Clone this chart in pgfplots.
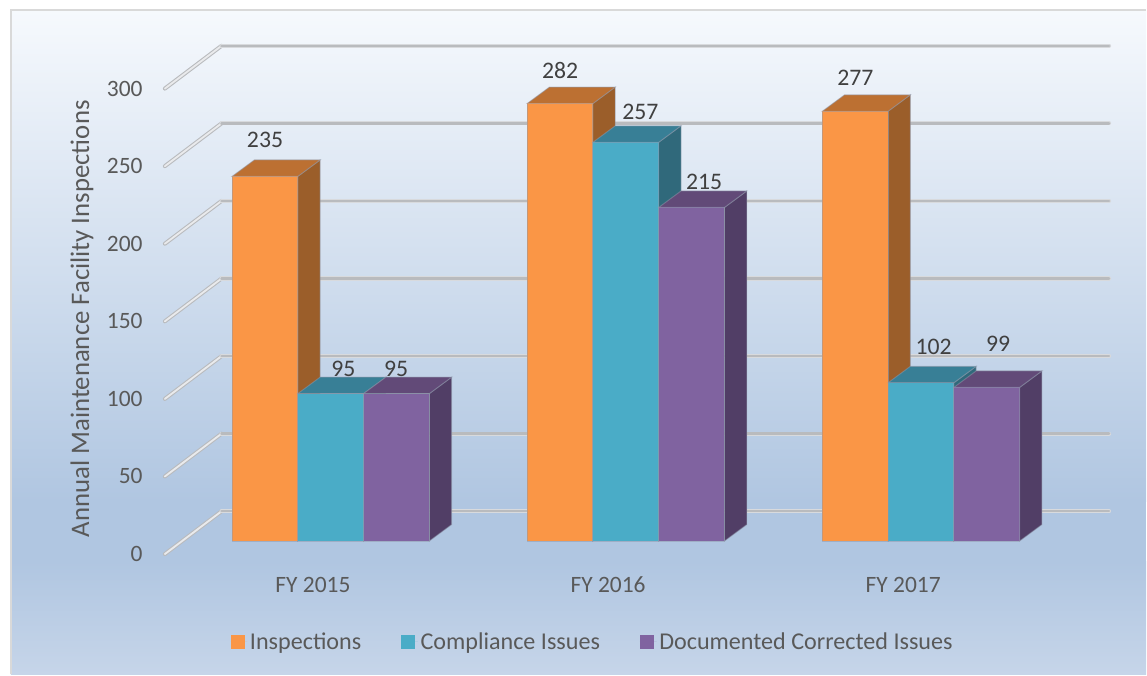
\documentclass[border=0pt]{standalone}
\usepackage{fontspec}
\setmainfont{Carlito}
\usepackage{pgfplots}
\pgfplotsset{compat=1.18}
\definecolor{orangeF}{HTML}{FA9646}
\definecolor{orangeT}{HTML}{BC7032}
\definecolor{orangeS}{HTML}{9B5E2A}
\definecolor{tealF}{HTML}{4AACC7}
\definecolor{tealT}{HTML}{387F96}
\definecolor{tealS}{HTML}{30697B}
\definecolor{purpF}{HTML}{8063A0}
\definecolor{purpT}{HTML}{624A78}
\definecolor{purpS}{HTML}{513E66}
\definecolor{edge}{HTML}{8F98AA}
\definecolor{txt}{HTML}{595959}
\definecolor{lab}{HTML}{404040}
\definecolor{gridA}{HTML}{B9BBBE}
\definecolor{gridB}{HTML}{D8DADD}
\definecolor{gridC}{HTML}{E9EAEC}
\definecolor{bgA}{HTML}{F6F9FD}
\definecolor{bgB}{HTML}{B0C6E1}
\definecolor{bgC}{HTML}{C6D5E9}
\definecolor{frame}{HTML}{D9D9D9}

% one 3D bar: group index, slot in group, value, colour prefix
\newcommand{\threedbar}[4]{%
  \pgfmathsetmacro{\xa}{#1+(#2-1.5)*0.2228+0.0024}%
  \pgfmathsetmacro{\xb}{\xa+0.2228}%
  \pgfmathsetmacro{\xc}{\xa+0.0755}%
  \pgfmathsetmacro{\xd}{\xb+0.0755}%
  \pgfmathsetmacro{\yt}{#3+10.6}%
  \addplot[forget plot,fill=#4S,draw=edge,draw opacity=0.5,line width=0.7pt] coordinates {(\xb,0) (\xd,10.6) (\xd,\yt) (\xb,#3)} -- cycle;
  \addplot[forget plot,fill=#4T,draw=edge,draw opacity=0.5,line width=0.7pt] coordinates {(\xa,#3) (\xc,\yt) (\xd,\yt) (\xb,#3)} -- cycle;
  \addplot[forget plot,fill=#4F,draw=edge,draw opacity=0.5,line width=0.7pt] coordinates {(\xa,0) (\xa,#3) (\xb,#3) (\xb,0)} -- cycle;
}
% value label: group index, slot, value, shift right, shift up (in pt)
\newcommand{\barlabel}[5]{%
  \pgfmathsetmacro{\xa}{#1+(#2-1)*0.2228}%
  \addplot[forget plot,draw=none,nodes near coords,
    every node near coord/.style={anchor=center,text=lab,inner sep=0pt,xshift=#4pt,yshift=#5pt,font=\fontsize{17.8}{20}\selectfont}]
    coordinates {(\xa,#3)};
}
% gridline at a tick value: slanted floor part and long back part
\newcommand{\gridline}[1]{%
  \pgfmathsetmacro{\yf}{#1-8.4}%
  \pgfmathsetmacro{\yb}{#1+19.2}%
  \addplot[forget plot,color=gridA,line width=3pt,line cap=round] coordinates {(-0.5594,\yf) (-0.3673,\yb)};
  \addplot[forget plot,color=gridC,line width=1.4pt,line cap=round] coordinates {(-0.5594,\yf) (-0.3673,\yb)};
  \addplot[forget plot,color=gridB,line width=3.2pt,line cap=round] coordinates {(-0.3673,\yb) (2.6396,\yb)};
  \addplot[forget plot,color=gridA,line width=1.8pt,line cap=round] coordinates {(-0.3673,\yb) (2.6396,\yb)};
}

\begin{document}
\begin{tikzpicture}
\begin{axis}[
    set layers,
    scale only axis,
    width=708.75pt, height=381.375pt,
    xmin=-0.5594, xmax=2.6396,
    ymin=-8.4, ymax=319.06,
    clip=false,
    axis line style={draw=none},
    major tick length=0pt,
    /pgf/number format/assume math mode=true,
    xtick={0,1,2},
    xticklabels={FY 2015,FY 2016,FY 2017},
    x tick label style={anchor=center,text=txt,font=\fontsize{17.6}{20}\selectfont,xshift=-12.8pt,yshift=-23pt},
    ytick={-8.4,41.6,91.6,141.6,191.6,241.6,291.6},
    yticklabels={0,50,100,150,200,250,300},
    y tick label style={anchor=east,text=txt,font=\fontsize{17.6}{20}\selectfont,inner sep=0pt,xshift=-16.5pt},
    ylabel={Annual Maintenance Facility Inspections},
    ylabel style={at={(axis description cs:-0.0878,0.463)},anchor=center,text=txt,font=\fontsize{20.1}{22}\selectfont},
    legend style={at={(axis description cs:0.4534,-0.173)},anchor=center,draw=none,fill=none,
      legend columns=3,text=txt,font=\fontsize{18.1}{20}\selectfont,
      /tikz/every even column/.append style={column sep=28pt}},
    legend image code/.code={\fill[#1] (0pt,-5.25pt) rectangle (10.5pt,5.25pt);\path (0pt,0pt) -- (12.5pt,0pt);},
]
\begin{pgfonlayer}{axis background}
  \fill[white] (axis cs:-1.118,-85.96) rectangle (axis cs:2.7648,348.7);
  \fill[top color=bgA,bottom color=bgB] (axis cs:-1.0809,25.4) rectangle (axis cs:2.7648,342.2);
  \fill[bgB] (axis cs:-1.0809,-13.2) rectangle (axis cs:2.7648,25.5);
  \fill[top color=bgB,bottom color=bgC] (axis cs:-1.0809,-85.96) rectangle (axis cs:2.7648,-13.1);
  \draw[color=frame,line width=1.5pt] (axis cs:-1.0809,-85.96) -- (axis cs:-1.0809,342.2) -- (axis cs:2.7648,342.2);
\end{pgfonlayer}

\gridline{0}
\gridline{50}
\gridline{100}
\gridline{150}
\gridline{200}
\gridline{250}
\gridline{300}

\threedbar{0}{0}{235}{orange}
\threedbar{0}{1}{95}{teal}
\threedbar{0}{2}{95}{purp}
\threedbar{1}{0}{282}{orange}
\threedbar{1}{1}{257}{teal}
\threedbar{1}{2}{215}{purp}
\threedbar{2}{0}{277}{orange}
\threedbar{2}{1}{102}{teal}
\threedbar{2}{2}{99}{purp}

\barlabel{0}{0}{235}{0.6}{27.5}
\barlabel{0}{1}{95}{10}{18.8}
\barlabel{0}{2}{95}{0.3}{18.8}
\barlabel{1}{0}{282}{0.6}{25}
\barlabel{1}{1}{257}{11.5}{22.5}
\barlabel{1}{2}{215}{10}{19}
\barlabel{2}{0}{277}{0.6}{25}
\barlabel{2}{1}{102}{10}{27}
\barlabel{2}{2}{99}{9}{33}

\addlegendimage{fill=orangeF,draw=none}
\addlegendentry{Inspections}
\addlegendimage{fill=tealF,draw=none}
\addlegendentry{Compliance Issues}
\addlegendimage{fill=purpF,draw=none}
\addlegendentry{Documented Corrected Issues}
\end{axis}
\end{tikzpicture}
\end{document}
